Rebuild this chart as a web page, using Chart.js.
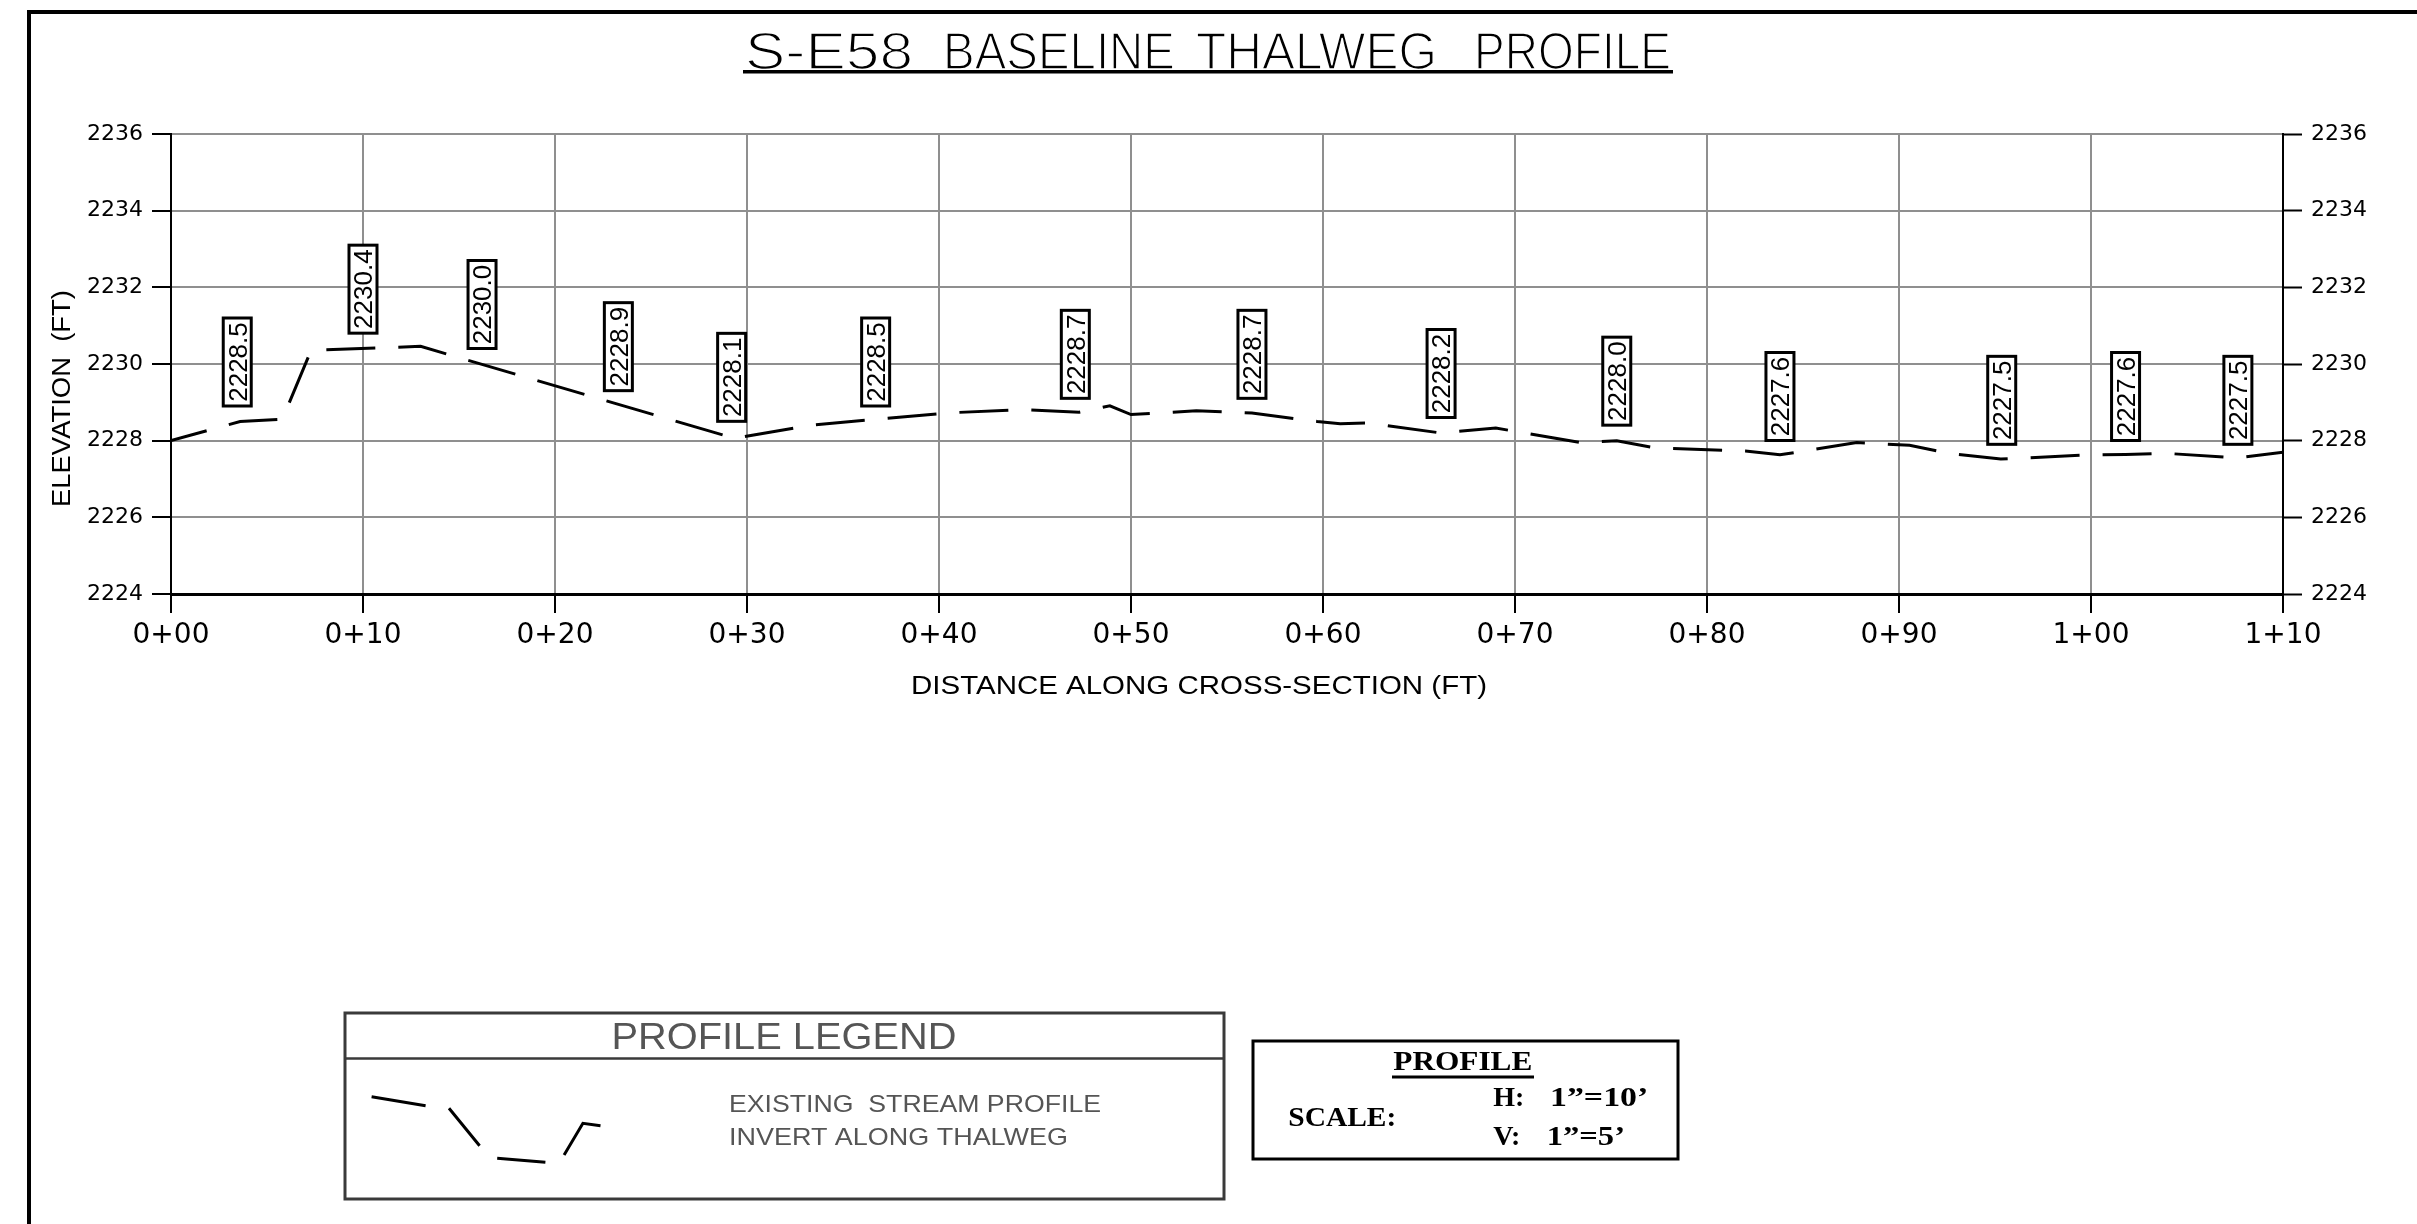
<!DOCTYPE html>
<html>
<head>
<meta charset="utf-8">
<title>S-E58 Baseline Thalweg Profile</title>
<script src="https://cdn.jsdelivr.net/npm/chart.js@4.4.1/dist/chart.umd.min.js"></script>
<style>
  html, body { margin: 0; padding: 0; background: #fff; overflow: hidden; }
  canvas { display: block; }
</style>
</head>
<body>
<canvas id="c" width="2417" height="1224" style="width:2417px;height:1224px"></canvas>
<script>
// ---------- DATA ----------
// Thalweg profile vertices: station (ft) and invert elevation (ft)
const stations = [0, 3.6, 5.8, 7.3, 13.0, 29.35, 33.4, 40.7, 44.3, 47.3, 48.9, 50.0, 53.4, 56.3, 59.7, 60.9, 62.3, 66.15, 69.0, 73.4, 75.3, 77.3, 82.0, 83.8, 87.8, 90.55, 92.6, 95.3, 95.7, 99.5, 101.8, 103.9, 107.6, 110];
const elevations = [2228.0, 2228.50, 2228.56, 2230.36, 2230.46, 2228.06, 2228.41, 2228.73, 2228.81, 2228.74, 2228.91, 2228.68, 2228.78, 2228.72, 2228.50, 2228.44, 2228.46, 2228.20, 2228.33, 2227.95, 2228.0, 2227.81, 2227.73, 2227.63, 2227.95, 2227.88, 2227.67, 2227.52, 2227.53, 2227.62, 2227.64, 2227.67, 2227.55, 2227.70];

// Elevation call-outs
const labelStations = [3.45, 10.0, 16.2, 23.3, 29.2, 36.7, 47.1, 56.3, 66.15, 75.3, 83.8, 95.35, 101.8, 107.65];
const labelValues = [2228.5, 2230.4, 2230.0, 2228.9, 2228.1, 2228.5, 2228.7, 2228.7, 2228.2, 2228.0, 2227.6, 2227.5, 2227.6, 2227.5];

// Axis ticks
const xTickValues = [0, 10, 20, 30, 40, 50, 60, 70, 80, 90, 100, 110];
const xTickLabels = ['0+00', '0+10', '0+20', '0+30', '0+40', '0+50', '0+60', '0+70', '0+80', '0+90', '1+00', '1+10'];
const yTickValues = [2224, 2226, 2228, 2230, 2232, 2234, 2236];
const yTickLabels = ['2224', '2226', '2228', '2230', '2232', '2234', '2236'];

// Texts
const titleWords = ['S-E58', 'BASELINE', 'THALWEG', 'PROFILE'];
const xTitle = 'DISTANCE ALONG CROSS-SECTION (FT)';
const yTitle = 'ELEVATION  (FT)';
const legendTitle = 'PROFILE LEGEND';
const legendLines = ['EXISTING  STREAM PROFILE', 'INVERT ALONG THALWEG'];

// ---------- HELPERS ----------
function fitText(ctx, text, x, y, font, width, align, color, rot, thin) {
  ctx.save();
  ctx.font = font;
  ctx.fillStyle = color || '#000';
  ctx.textBaseline = 'alphabetic';
  ctx.textAlign = 'left';
  const w = ctx.measureText(text).width;
  const s = width ? width / w : 1;
  ctx.translate(x, y);
  if (rot) ctx.rotate(rot);
  ctx.scale(s, 1);
  let ox = 0;
  if (align === 'center') ox = -w / 2;
  else if (align === 'right') ox = -w;
  ctx.fillText(text, ox, 0);
  if (thin) {
    ctx.strokeStyle = '#fff';
    ctx.lineWidth = thin;
    ctx.lineJoin = 'round';
    ctx.strokeText(text, ox, 0);
  }
  ctx.restore();
}

const SANS = '"Liberation Sans", Arial, sans-serif';
const SERIF = '"Liberation Serif", "Times New Roman", serif';

// word layout of the title (left edge, width)
const titleWordBoxes = [[745, 168], [943, 232], [1196, 241], [1474, 197]];

const decor = {
  id: 'decor',
  beforeDraw(chart) {
    const ctx = chart.ctx;
    ctx.save();
    ctx.fillStyle = '#fff';
    ctx.fillRect(0, 0, chart.width, chart.height);
    ctx.strokeStyle = '#000';
    ctx.lineWidth = 4;
    ctx.beginPath();
    ctx.moveTo(29, chart.height + 10);
    ctx.lineTo(29, 12);
    ctx.lineTo(chart.width + 10, 12);
    ctx.stroke();
    ctx.restore();
  },
  afterDatasetsDraw(chart) {
    const ctx = chart.ctx;
    const xs = chart.scales.x, ys = chart.scales.y;
    ctx.save();
    labelStations.forEach((s, i) => {
      const px = xs.getPixelForValue(s);
      const py = ys.getPixelForValue(labelValues[i]);
      const bw = 28, bh = 88;
      const bottom = py - 15.5;
      ctx.fillStyle = '#fff';
      ctx.fillRect(px - bw / 2, bottom - bh, bw, bh);
      ctx.lineWidth = 3;
      ctx.strokeStyle = '#000';
      ctx.strokeRect(px - bw / 2, bottom - bh, bw, bh);
      ctx.save();
      ctx.translate(px + 9.3, bottom - bh / 2);
      ctx.rotate(-Math.PI / 2);
      ctx.font = '26px ' + SANS;
      ctx.textAlign = 'center';
      ctx.textBaseline = 'alphabetic';
      ctx.fillStyle = '#000';
      ctx.fillText(labelValues[i].toFixed(1), 0, 0);
      ctx.restore();
    });
    ctx.restore();
  },
  afterDraw(chart) {
    const ctx = chart.ctx;
    ctx.save();
    // Main title + underline
    titleWords.forEach((w, i) => {
      fitText(ctx, w, titleWordBoxes[i][0], 68.5, '51px ' + SANS, titleWordBoxes[i][1], 'left', '#000', 0, 1.6);
    });
    ctx.fillStyle = '#000';
    ctx.fillRect(743, 70, 930, 3.5);

    // Axis titles
    fitText(ctx, xTitle, 911, 694, '26.5px ' + SANS, 576, 'left', '#000');
    fitText(ctx, yTitle, 70, 507, '26.5px ' + SANS, 217, 'left', '#000', -Math.PI / 2);

    // Legend box
    ctx.strokeStyle = '#3a3a3a';
    ctx.lineWidth = 3;
    ctx.strokeRect(345, 1013, 879, 186);
    ctx.lineWidth = 2.5;
    ctx.beginPath();
    ctx.moveTo(345, 1058.5);
    ctx.lineTo(1224, 1058.5);
    ctx.stroke();
    fitText(ctx, legendTitle, 784, 1049.3, '37px ' + SANS, 345, 'center', '#555');
    fitText(ctx, legendLines[0], 729, 1112, '24px ' + SANS, 372, 'left', '#555');
    fitText(ctx, legendLines[1], 729, 1145, '24px ' + SANS, 339, 'left', '#555');
    // legend symbol (dashed profile)
    ctx.strokeStyle = '#000';
    ctx.lineWidth = 3;
    ctx.lineCap = 'butt';
    ctx.beginPath();
    ctx.moveTo(371.6, 1096.7); ctx.lineTo(425.6, 1105.7);
    ctx.moveTo(449, 1108.3); ctx.lineTo(479.6, 1145.7);
    ctx.moveTo(497.2, 1158.3); ctx.lineTo(545.4, 1162.3);
    ctx.moveTo(564.1, 1155); ctx.lineTo(582.9, 1123.3); ctx.lineTo(600.5, 1125.7);
    ctx.stroke();

    // Scale box
    ctx.strokeStyle = '#000';
    ctx.lineWidth = 3;
    ctx.strokeRect(1253, 1041, 425, 118);
    fitText(ctx, 'PROFILE', 1393.3, 1070, 'bold 28px ' + SERIF, 139, 'left', '#000');
    ctx.fillStyle = '#000';
    ctx.fillRect(1392, 1075.5, 142, 3);
    fitText(ctx, 'SCALE:', 1288.3, 1126, 'bold 28px ' + SERIF, 108, 'left', '#000');
    fitText(ctx, 'H:', 1493.3, 1106, 'bold 28px ' + SERIF, 0, 'left', '#000');
    fitText(ctx, '1\u201D=10\u2019', 1550, 1106, 'bold 28px ' + SERIF, 98.3, 'left', '#000');
    fitText(ctx, 'V:', 1493.3, 1145, 'bold 28px ' + SERIF, 0, 'left', '#000');
    fitText(ctx, '1\u201D=5\u2019', 1546.7, 1145, 'bold 28px ' + SERIF, 78.3, 'left', '#000');
    ctx.restore();
  }
};

const gridColor = '#8f8f8f';

const profilePoints = stations.map((s, i) => ({ x: s, y: elevations[i] }));

new Chart(document.getElementById('c'), {
  type: 'line',
  data: {
    datasets: [{
      label: 'Existing stream profile invert along thalweg',
      data: profilePoints,
      borderColor: '#000',
      borderWidth: 3,
      borderDash: [49, 23],
      borderDashOffset: 12,
      borderJoinStyle: 'miter',
      pointRadius: 0,
      tension: 0,
      fill: false
    }]
  },
  options: {
    responsive: false,
    animation: false,
    events: [],
    layout: { padding: { top: 134, bottom: 530, left: 0, right: 0 } },
    plugins: {
      legend: { display: false },
      title: { display: false },
      tooltip: { enabled: false }
    },
    scales: {
      x: {
        type: 'linear',
        position: 'bottom',
        min: 0,
        max: 110,
        afterBuildTicks: (s) => { s.ticks = xTickValues.map(v => ({ value: v })); },
        afterFit: (s) => { s.height = 100; },
        ticks: {
          callback: (v, i) => xTickLabels[i],
          font: { family: 'DejaVu Sans', size: 28 },
          color: '#000',
          padding: 6,
          maxRotation: 0,
          minRotation: 0,
          autoSkip: false
        },
        grid: { color: gridColor, lineWidth: 2, tickColor: '#000', tickWidth: 2, tickLength: 19 },
        border: { color: '#000', width: 3 }
      },
      y: {
        type: 'linear',
        position: 'left',
        min: 2224,
        max: 2236,
        afterBuildTicks: (s) => { s.ticks = yTickValues.map(v => ({ value: v })); },
        afterFit: (s) => { s.width = 171; },
        ticks: {
          callback: (v, i) => yTickLabels[i],
          font: { family: 'DejaVu Sans', size: 22 },
          color: '#000',
          padding: 9
        },
        grid: { color: gridColor, lineWidth: 2, tickColor: '#000', tickWidth: 2, tickLength: 19 },
        border: { color: '#000', width: 2 }
      },
      y2: {
        type: 'linear',
        position: 'right',
        min: 2224,
        max: 2236,
        afterBuildTicks: (s) => { s.ticks = yTickValues.map(v => ({ value: v })); },
        afterFit: (s) => { s.width = 134; },
        ticks: {
          callback: (v, i) => yTickLabels[i],
          font: { family: 'DejaVu Sans', size: 22 },
          color: '#000',
          padding: 9
        },
        grid: { drawOnChartArea: false, tickColor: '#000', tickWidth: 2, tickLength: 19 },
        border: { color: '#000', width: 2 }
      }
    }
  },
  plugins: [decor]
});
</script>
</body>
</html>
